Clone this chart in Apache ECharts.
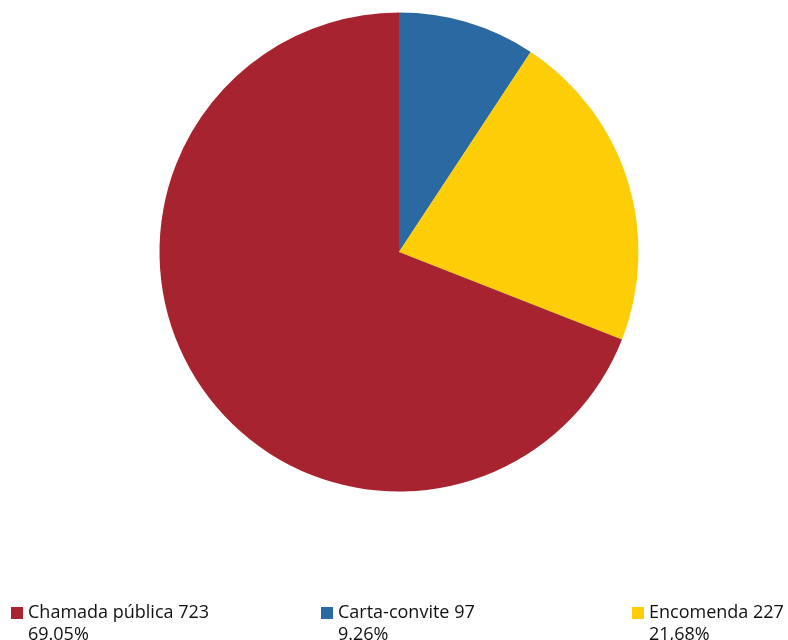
<!DOCTYPE html>
<html><head><meta charset="utf-8">
<script src="https://cdn.jsdelivr.net/npm/echarts@6/dist/echarts.min.js"></script>
<style>html,body{margin:0;padding:0;background:#fff}#c{width:788px;height:640px}</style>
</head><body><div id="c"></div>
<script>
const categories = ['Carta-convite', 'Encomenda', 'Chamada pública'];
const values = [97, 227, 723];
const pctLabels = ['9.26%', '21,68%', '69.05%'];
const colors = ['#2B69A2', '#FDCD08', '#A6232F'];
const legendOrder = ['Chamada pública', 'Carta-convite', 'Encomenda'];
const legendLeft = [11, 321, 632];

const chart = echarts.init(document.getElementById('c'));
const font = 'Open Sans';
const legends = legendOrder.map((n, i) => ({
  data: [n], left: legendLeft[i], top: 604, itemWidth: 12, itemHeight: 12, itemGap: 5,
  icon: 'rect', selectedMode: false, padding: 0,
  formatter: name => name + ' ' + values[categories.indexOf(name)],
  textStyle: { fontFamily: font, fontSize: 18, fontWeight: 500, color: '#111' }
}));
const graphics = legendOrder.map((n, i) => ({
  type: 'text', left: legendLeft[i] + 17, top: 626,
  style: { text: pctLabels[categories.indexOf(n)], font: '500 18px "' + font + '"', fill: '#111' }
}));
chart.setOption({
  animation: false,
  color: colors,
  legend: legends,
  graphic: graphics,
  series: [{
    type: 'pie', center: [399, 252], radius: 239.5, startAngle: 90, clockwise: true,
    label: { show: false }, labelLine: { show: false }, emphasis: { disabled: true },
    data: categories.map((c, i) => ({ name: c, value: values[i], itemStyle: { color: colors[i] } }))
  }]
});
</script></body></html>
